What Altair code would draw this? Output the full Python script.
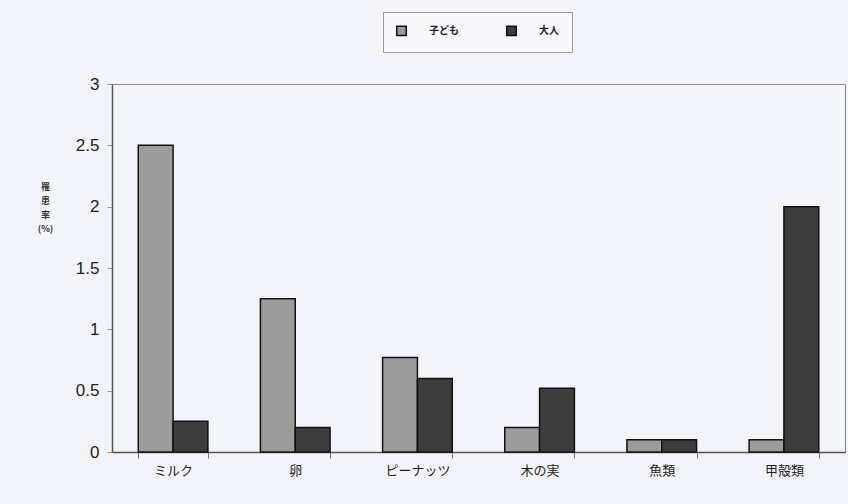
import altair as alt
import pandas as pd

categories = ["ミルク", "卵", "ピーナッツ", "木の実", "魚類", "甲殻類"]
series = ["子ども", "大人"]
child = [2.5, 1.25, 0.77, 0.2, 0.1, 0.1]
adult = [0.25, 0.2, 0.6, 0.52, 0.1, 2.0]
y_ticks = [0, 0.5, 1, 1.5, 2, 2.5, 3]

rows = []
for c, a, b in zip(categories, child, adult):
    rows.append({"食品": c, "区分": series[0], "罹患率": a})
    rows.append({"食品": c, "区分": series[1], "罹患率": b})
df = pd.DataFrame(rows)

bg = "#f3f4f9"
font = "Noto Sans CJK JP"

chart = (
    alt.Chart(df)
    .mark_bar(stroke="#111111", strokeWidth=1.5)
    .encode(
        x=alt.X(
            "食品:N",
            sort=categories,
            scale=alt.Scale(paddingInner=0.43, paddingOuter=0.215),
            axis=alt.Axis(
                title=None,
                labelAngle=0,
                labelFontSize=13,
                labelFont=font,
                labelColor="#222222",
                labelPadding=6,
                tickBand="extent",
                tickSize=6,
                tickColor="#777777",
                domainColor="#555555",
                domainWidth=1.5,
            ),
        ),
        xOffset=alt.XOffset("区分:N", sort=series),
        y=alt.Y(
            "罹患率:Q",
            scale=alt.Scale(domain=[0, 3], nice=False),
            axis=alt.Axis(
                values=y_ticks,
                format="~g",
                grid=False,
                labelFontSize=17,
                labelFont="Liberation Sans",
                labelColor="#222222",
                labelPadding=8,
                tickSize=5,
                tickColor="#999999",
                domainColor="#555555",
                domainWidth=1.5,
                title=["罹", "患", "率", "(%)"],
                titleAngle=0,
                titleFont=font,
                titleFontSize=9,
                titleFontWeight="bold",
                titleLineHeight=14,
                titleColor="#333333",
                titleAlign="center",
                titleBaseline="top",
                titleX=-67,
                titleY=98,
            ),
        ),
        fill=alt.Fill(
            "区分:N",
            sort=series,
            scale=alt.Scale(domain=series, range=["#9c9c9c", "#3d3d3d"]),
            legend=alt.Legend(
                title=None,
                orient="none",
                direction="horizontal",
                legendX=271,
                legendY=-72,
                symbolType="square",
                symbolSize=90,
                symbolStrokeColor="#111111",
                symbolStrokeWidth=1.5,
                labelFont=font,
                labelFontSize=10,
                labelFontWeight="bold",
                labelColor="#222222",
                labelOffset=22,
                columnPadding=44,
                padding=13,
                fillColor="#f8f8fc",
                strokeColor="#999999",
            ),
        ),
    )
    .properties(
        width=733,
        height=368,
        padding={"left": 112, "top": 84, "right": 3, "bottom": 52},
        autosize=alt.AutoSizeParams(type="none"),
        background=bg,
    )
    .configure_view(fill=bg, stroke="#8a8a8a", strokeWidth=1)
)

chart.save("out.html", embed_options={"renderer": "svg", "actions": False})
